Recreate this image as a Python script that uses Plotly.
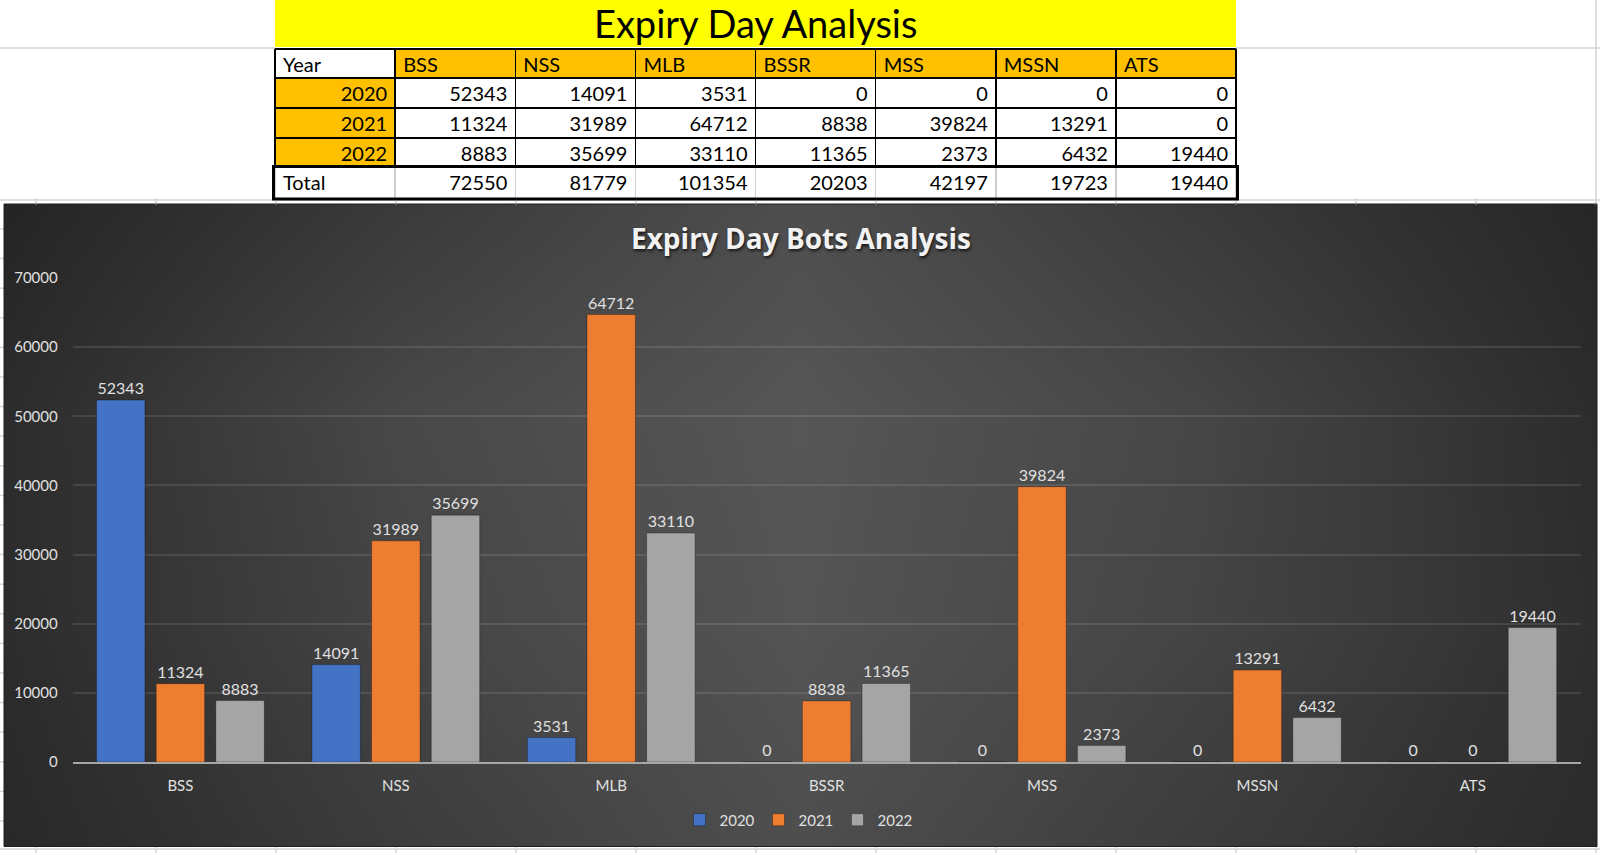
import plotly.graph_objects as go

categories = ["BSS", "NSS", "MLB", "BSSR", "MSS", "MSSN", "ATS"]
years = ["2020", "2021", "2022"]
bots_2020 = [52343, 14091, 3531, 0, 0, 0, 0]
bots_2021 = [11324, 31989, 64712, 8838, 39824, 13291, 0]
bots_2022 = [8883, 35699, 33110, 11365, 2373, 6432, 19440]
totals = [72550, 81779, 101354, 20203, 42197, 19723, 19440]
y_ticks = [0, 10000, 20000, 30000, 40000, 50000, 60000, 70000]

W, H = 1600, 853
FONT = "Lato, 'Open Sans', sans-serif"
ORANGE_CELL = "#FFC000"
GRID = "#d4d4d4"
bar_colors = ["#4472C4", "#ED7D31", "#A5A5A5"]


def px(x):
    return x / W


def py(y):
    return 1 - y / H


# background gradient of the chart area (gray levels, in pixel space)
bg_x = [4, 400, 800, 1200, 1597]
bg_y = [204, 420, 630, 846]
bg_gray = [
    [36, 58, 78, 58, 38],
    [44, 72, 86, 70, 44],
    [44, 68, 84, 68, 46],
    [40, 60, 78, 60, 42],
]

fig = go.Figure()

fig.add_trace(go.Heatmap(
    x=bg_x, y=bg_y, z=bg_gray, zsmooth="best", zmin=0, zmax=255,
    colorscale=[[0, "rgb(0,0,0)"], [1, "rgb(255,255,255)"]],
    showscale=False, hoverinfo="skip", xaxis="x", yaxis="y",
))

for name, vals, col in zip(years, [bots_2020, bots_2021, bots_2022], bar_colors):
    fig.add_bar(
        x=categories, y=vals, name=name, xaxis="x2", yaxis="y2",
        marker=dict(color=col, line=dict(color="rgba(0,0,0,0.3)", width=1)),
        text=[str(v) for v in vals], textposition="outside",
        textfont=dict(family=FONT, size=16, color="#e0e0e0"),
        constraintext="none", cliponaxis=False,
    )

# spreadsheet table: header + year rows
n = len(categories)
col_vals = [years]
for i in range(n):
    col_vals.append([bots_2020[i], bots_2021[i], bots_2022[i]])

cell_font = dict(family=FONT, size=20, color="black")
fig.add_trace(go.Table(
    domain=dict(x=[px(275), px(1236)], y=[py(168), py(49)]),
    columnwidth=[1] * (n + 1),
    header=dict(
        values=["Year"] + categories,
        fill=dict(color=["white"] + [ORANGE_CELL] * n),
        align="left", font=cell_font,
        line=dict(color="black", width=1.5), height=29,
    ),
    cells=dict(
        values=col_vals,
        fill=dict(color=[ORANGE_CELL] + ["white"] * n),
        align="right", font=cell_font,
        line=dict(color="black", width=1.5), height=30,
    ),
))

# Total row as its own one-line table
fig.add_trace(go.Table(
    domain=dict(x=[px(275), px(1236)], y=[py(200), py(167)]),
    columnwidth=[1] * (n + 1),
    header=dict(
        values=["Total"] + [str(t) for t in totals],
        fill=dict(color="white"),
        align=["left"] + ["right"] * n, font=cell_font,
        line=dict(color="#cfcfcf", width=1.5), height=32,
    ),
    cells=dict(values=[], height=1),
))

shapes = []
# yellow title band
shapes.append(dict(type="rect", xref="paper", yref="paper", x0=px(275), x1=px(1236),
                   y0=py(47), y1=py(0), fillcolor="#FFFF00", line=dict(width=0), layer="below"))
# spreadsheet gridlines around the table / chart
for x0, x1 in [(0, 275), (1236, 1600)]:
    shapes.append(dict(type="line", xref="paper", yref="paper", x0=px(x0), x1=px(x1),
                       y0=py(48), y1=py(48), line=dict(color=GRID, width=1.5)))
shapes.append(dict(type="line", xref="paper", yref="paper", x0=0, x1=1, y0=py(200), y1=py(200),
                   line=dict(color=GRID, width=1.5)))
shapes.append(dict(type="line", xref="paper", yref="paper", x0=0, x1=1, y0=py(849), y1=py(849),
                   line=dict(color=GRID, width=1.5)))
shapes.append(dict(type="line", xref="paper", yref="paper", x0=px(1596), x1=px(1596), y0=py(0), y1=py(204),
                   line=dict(color=GRID, width=1.5)))
for k in range(14):
    gx = 36 + 120 * k
    shapes.append(dict(type="line", xref="paper", yref="paper", x0=px(gx), x1=px(gx),
                       y0=py(198), y1=py(205), line=dict(color=GRID, width=1.5)))
    shapes.append(dict(type="line", xref="paper", yref="paper", x0=px(gx), x1=px(gx),
                       y0=py(846), y1=py(853), line=dict(color=GRID, width=1.5)))
for k in range(21):
    gy = 229 + 29.6 * k
    shapes.append(dict(type="line", xref="paper", yref="paper", x0=0, x1=px(4),
                       y0=py(gy), y1=py(gy), line=dict(color=GRID, width=1.5)))
# thick border around the Total row
shapes.append(dict(type="rect", xref="paper", yref="paper", x0=px(273.5), x1=px(1237.5),
                   y0=py(199), y1=py(166.5), line=dict(color="black", width=3)))
# chart frame
shapes.append(dict(type="rect", xref="paper", yref="paper", x0=px(4), x1=px(1597),
                   y0=py(846.5), y1=py(204), line=dict(color="#1e1e1e", width=1)))

annotations = [
    dict(text="Expiry Day Analysis", xref="paper", yref="paper", x=px(755.5), y=py(23),
         xanchor="center", yanchor="middle", showarrow=False,
         font=dict(family=FONT, size=38, color="black")),
    dict(text="<b>Expiry Day Bots Analysis</b>", xref="paper", yref="paper", x=px(801), y=py(238),
         xanchor="center", yanchor="middle", showarrow=False,
         font=dict(family="'Open Sans', sans-serif", size=28, color="#f2f2f2",
                   shadow="1px 2px 3px rgba(0,0,0,0.7)")),
]

fig.update_layout(
    width=W, height=H, autosize=False,
    margin=dict(l=0, r=0, t=0, b=0, pad=0, autoexpand=False),
    paper_bgcolor="white", plot_bgcolor="rgba(0,0,0,0)",
    font=dict(family=FONT, color="#d9d9d9"),
    barmode="group", bargap=0.169, bargroupgap=0.188,
    xaxis=dict(domain=[px(4), px(1597)], range=[4, 1597], visible=False, fixedrange=True),
    yaxis=dict(domain=[py(846), py(204)], range=[846, 204], visible=False, fixedrange=True),
    xaxis2=dict(
        domain=[px(72.7), px(1580.5)], anchor="y2", automargin=False,
        showline=True, linecolor="#a6a6a6", linewidth=1.5,
        showgrid=False, ticks="", ticklabelstandoff=9,
        tickfont=dict(family=FONT, size=15, color="#e0e0e0"),
    ),
    yaxis2=dict(
        domain=[py(762), py(278)], anchor="x2", range=[0, 70000], automargin=False,
        tickvals=y_ticks, tickformat="d",
        showgrid=True, gridcolor="rgba(255,255,255,0.10)", gridwidth=1.5,
        zeroline=False, showline=False, ticks="", ticklabelstandoff=14,
        tickfont=dict(family=FONT, size=15, color="#e0e0e0"),
    ),
    legend=dict(
        orientation="h", x=px(798), xanchor="center", y=py(820), yanchor="middle",
        font=dict(family=FONT, size=15, color="#e0e0e0"),
        bgcolor="rgba(0,0,0,0)", itemwidth=30, entrywidth=34, traceorder="normal",
    ),
    shapes=shapes,
    annotations=annotations,
    showlegend=True,
)

# pin the graph to the window origin (no body margin / stray whitespace above it)
pin = ("document.body.style.margin='0';document.body.style.overflow='hidden';"
       "var g=document.querySelector('.plotly-graph-div');"
       "g.style.position='fixed';g.style.top='0';g.style.left='0';")
fig.write_html("out.html", post_script=pin, config={"displayModeBar": False})
